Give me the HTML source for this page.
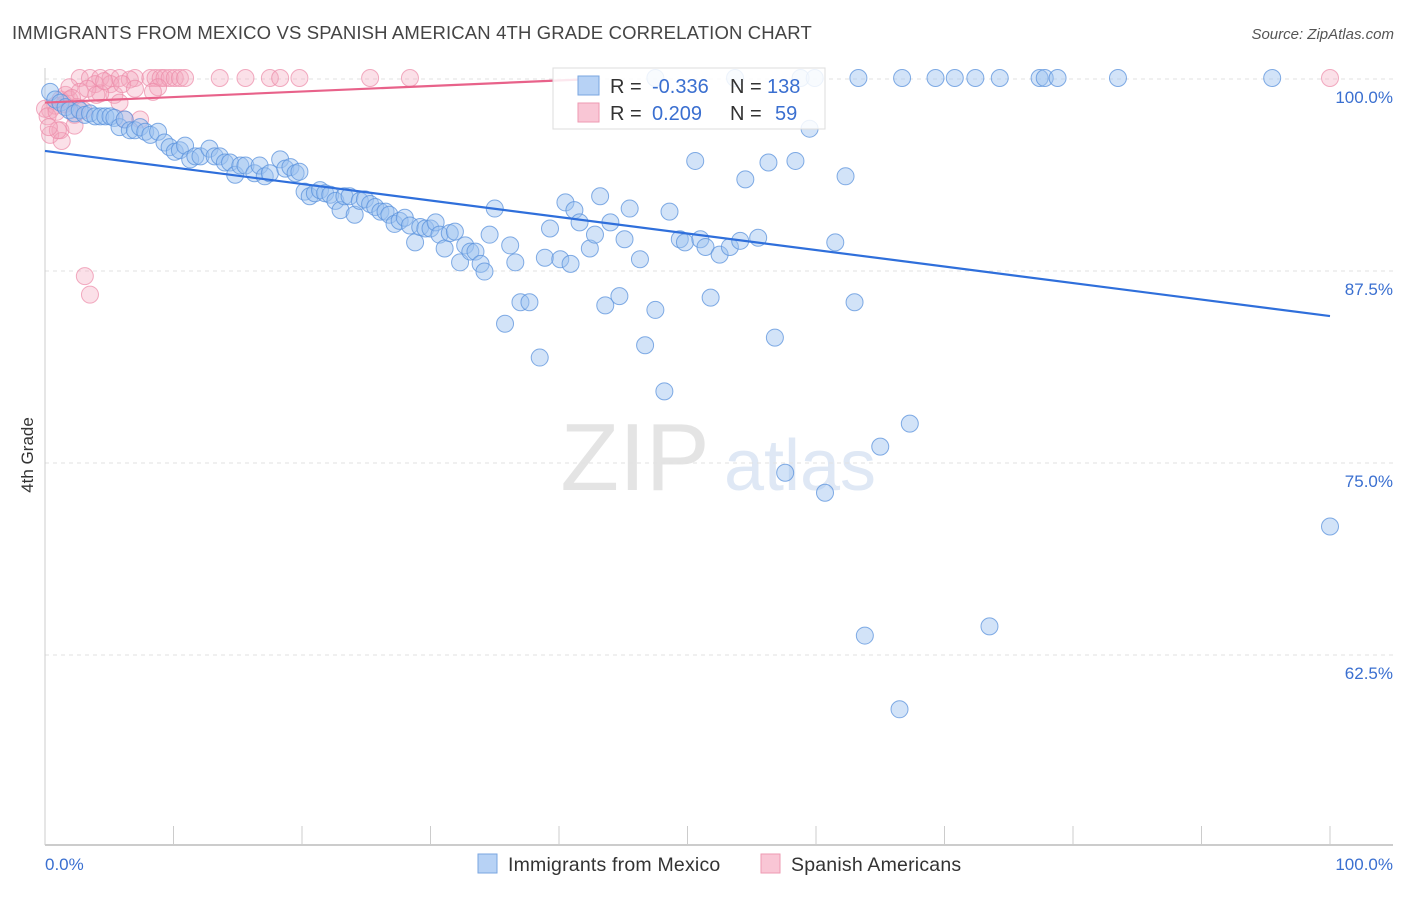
<!DOCTYPE html>
<html><head><meta charset="utf-8">
<style>
body{margin:0;background:#fff;font-family:"Liberation Sans",sans-serif;}
svg text{font-family:"Liberation Sans",sans-serif;}
</style></head>
<body>
<svg id="chart" width="1406" height="892" xmlns="http://www.w3.org/2000/svg">
<text x="12" y="39" font-size="18.5" letter-spacing="0.15" fill="#444">IMMIGRANTS FROM MEXICO VS SPANISH AMERICAN 4TH GRADE CORRELATION CHART</text>
<text x="1394" y="39" font-size="15" fill="#555" text-anchor="end" font-style="italic">Source: ZipAtlas.com</text>
<text transform="translate(33,455) rotate(-90)" font-size="17" fill="#333" text-anchor="middle">4th Grade</text>
<g>
<text x="635" y="490" font-size="96" fill="#e4e4e4" text-anchor="middle" font-family="Liberation Serif,serif">ZIP</text>
<text x="800" y="490" font-size="72" fill="#dfe8f5" text-anchor="middle">atlas</text>
</g>
<g id="grid"></g>
<g id="pinkpts"></g>
<g id="bluepts"></g>
<g id="trends"></g>
<g>
<rect x="553" y="68" width="272" height="61" fill="#fff" fill-opacity="0.85" stroke="#ddd"/>
<rect x="578" y="76" width="21" height="19" fill="#b7d2f5" stroke="#7aa6e0"/>
<rect x="578" y="103" width="21" height="19" fill="#f9c6d5" stroke="#ee9ab2"/>
<text x="610" y="93" font-size="20" fill="#333">R = </text>
<text x="652" y="93" font-size="20" fill="#3a6fd0">-0.336</text>
<text x="730" y="93" font-size="20" fill="#333">N =</text>
<text x="767" y="93" font-size="20" fill="#3a6fd0">138</text>
<text x="610" y="120" font-size="20" fill="#333">R = </text>
<text x="652" y="120" font-size="20" fill="#3a6fd0">0.209</text>
<text x="730" y="120" font-size="20" fill="#333">N =</text>
<text x="775" y="120" font-size="20" fill="#3a6fd0">59</text>
</g>
<g>
<rect x="478" y="854" width="19" height="19" fill="#b7d2f5" stroke="#7aa6e0"/>
<text x="508" y="871" font-size="19.5" letter-spacing="0.2" fill="#333">Immigrants from Mexico</text>
<rect x="761" y="854" width="19" height="19" fill="#f9c6d5" stroke="#ee9ab2"/>
<text x="791" y="871" font-size="19.5" letter-spacing="0.2" fill="#333">Spanish Americans</text>
</g>
</svg>
<script>
const yTicks=[100,87.5,75,62.5];
const yTickLabels=["100.0%","87.5%","75.0%","62.5%"];
const xTickLabels=["0.0%","100.0%"];
const blueX=[0.4,0.8,1.2,1.6,1.9,2.3,2.7,3.1,3.5,3.9,4.3,4.7,5.1,5.4,5.8,6.2,6.6,7.0,7.4,7.8,8.2,8.8,9.3,9.7,10.1,10.5,10.9,11.3,11.7,12.1,12.8,13.2,13.6,14.0,14.4,14.8,15.2,15.6,16.3,16.7,17.1,17.5,18.3,18.7,19.1,19.5,19.8,20.2,20.6,21.0,21.4,21.8,22.2,22.6,23.0,23.3,23.7,24.1,24.5,24.9,25.3,25.7,26.1,26.5,26.8,27.2,27.6,28.0,28.4,28.8,29.2,29.6,30.0,30.4,30.7,31.1,31.5,31.9,32.3,32.7,33.1,33.5,33.9,34.2,34.6,35.0,35.8,36.2,36.6,37.0,37.7,38.5,38.9,39.3,40.1,40.5,40.9,41.2,41.6,42.4,42.8,43.2,43.6,44.0,44.7,45.1,45.5,46.3,46.7,47.5,48.2,48.6,49.4,49.8,50.6,51.0,51.4,51.8,52.5,53.3,54.1,54.5,55.5,56.3,56.8,57.6,58.4,59.5,60.7,61.5,62.3,63.0,63.8,65.0,66.5,67.3,73.5,100,47.5,53.7,58.8,59.9,63.3,66.7,69.3,70.8,72.4,74.3,77.4,77.8,78.8,83.5,95.5];
const blueY=[99.1,98.6,98.4,98.1,97.9,97.7,97.9,97.6,97.7,97.5,97.5,97.5,97.5,97.4,96.8,97.3,96.6,96.6,96.8,96.5,96.3,96.5,95.8,95.5,95.2,95.3,95.6,94.7,94.9,94.9,95.4,94.9,94.9,94.5,94.5,93.7,94.3,94.3,93.8,94.3,93.6,93.8,94.7,94.1,94.2,93.8,93.9,92.6,92.3,92.5,92.7,92.5,92.4,92.0,91.4,92.3,92.3,91.1,92.0,92.1,91.8,91.6,91.3,91.3,91.1,90.5,90.7,90.9,90.4,89.3,90.3,90.2,90.2,90.6,89.8,88.9,89.9,90.0,88.0,89.1,88.7,88.7,87.9,87.4,89.8,91.5,84.0,89.1,88.0,85.4,85.4,81.8,88.3,90.2,88.2,91.9,87.9,91.4,90.6,88.9,89.8,92.3,85.2,90.6,85.8,89.5,91.5,88.2,82.6,84.9,79.6,91.3,89.5,89.3,94.6,89.5,89.0,85.7,88.5,89.0,89.4,93.4,89.6,94.5,83.1,74.3,94.6,96.7,73.0,89.3,93.6,85.4,63.7,76.0,58.9,77.5,64.3,70.8,100,100,100,100,100,100,100,100,100,100,100,100,100,100,100];
const pinkX=[2.7,3.5,4.3,5.1,5.8,7.0,8.2,8.6,9.0,9.3,9.7,10.1,10.5,10.9,13.6,15.6,17.5,18.3,19.8,25.3,28.4,100,0.4,0.8,1.2,1.6,1.9,2.3,1.2,0.4,1.3,3.1,3.5,1.9,2.7,3.9,5.1,5.4,5.8,6.2,7.4,2.3,4.3,6.6,8.8,0,0.2,0.9,1.5,2.1,2.5,3.0,3.3,4.0,4.6,6.0,7.0,1.0,0.3,8.4];
const pinkY=[100,100,100,100,100,100,100,100,100,100,100,100,100,100,100,100,100,100,100,100,100,100,97.9,98.2,98.6,98.9,98.6,97.6,96.6,96.3,95.9,87.1,85.9,99.4,99.1,99.6,99.6,98.9,98.4,97.3,97.3,96.9,99.0,99.9,99.4,98.0,97.5,97.8,98.3,98.7,98.1,97.9,99.3,98.9,99.8,99.6,99.3,96.6,96.8,99.1];
const blueTrend=[95.25,84.5];
const pinkTrend=[98.4,102.0];
const NS="http://www.w3.org/2000/svg";
const X0=45,X1=1330,Y100=78,PX125=192;
function sx(v){return X0+(X1-X0)*v/100;}
function sy(v){return Y100+(100-v)/12.5*PX125;}
function mk(parent,tag,attrs){const e=document.createElementNS(NS,tag);for(const k in attrs)e.setAttribute(k,attrs[k]);parent.appendChild(e);return e;}
const svg=document.getElementById('chart');
const grid=document.getElementById('grid');
yTicks.forEach((t,i)=>{
  const l=mk(grid,'line',{x1:X0,x2:1393,y1:sy(t)+1,y2:sy(t)+1,stroke:'#e2e2e2','stroke-dasharray':'4,4'});
  
  
  const tx=mk(grid,'text',{x:1393,y:sy(t)+25,'font-size':17,fill:'#3a6fd0','text-anchor':'end'});
  tx.textContent=yTickLabels[i];
  
  
});
const ax=mk(grid,'line',{x1:X0,x2:1393,y1:845,y2:845,stroke:'#bbb','stroke-width':1.5});


const ay=mk(grid,'line',{x1:X0,x2:X0,y1:68,y2:845,stroke:'#ccc'});


for(let i=0;i<=10;i++){
  const t=mk(grid,'line',{x1:sx(i*10),x2:sx(i*10),y1:826,y2:845,stroke:'#ccc'});
  
  
}
[[0,'start',45],[100,'end',1393]].forEach((d,i)=>{
  const t=mk(grid,'text',{x:d[2],y:870,'font-size':17,fill:'#3a6fd0','text-anchor':d[1]});
  t.textContent=xTickLabels[i];
  
  
});
const pg=document.getElementById('pinkpts');
pinkX.forEach((x,i)=>{
  const c=mk(pg,'circle',{cx:sx(x),cy:sy(pinkY[i]),r:8.5,fill:'#f4a6bd','fill-opacity':0.35,stroke:'#ec8aa8','stroke-opacity':0.7});
  
  
});
const bg=document.getElementById('bluepts');
blueX.forEach((x,i)=>{
  const c=mk(bg,'circle',{cx:sx(x),cy:sy(blueY[i]),r:8.5,fill:'#9cc2f0','fill-opacity':0.45,stroke:'#5a92dc','stroke-opacity':0.75});
  
  
});
const tg=document.getElementById('trends');
const bt=mk(tg,'line',{x1:sx(0),y1:sy(blueTrend[0]),x2:sx(100),y2:sy(blueTrend[1]),stroke:'#2f6fdb','stroke-width':2.2});


const pt=mk(tg,'line',{x1:sx(0),y1:sy(pinkTrend[0]),x2:sx(42.4),y2:sy(pinkTrend[0]+(pinkTrend[1]-pinkTrend[0])*0.424),stroke:'#e8628a','stroke-width':2.2});


</script>
</body></html>
